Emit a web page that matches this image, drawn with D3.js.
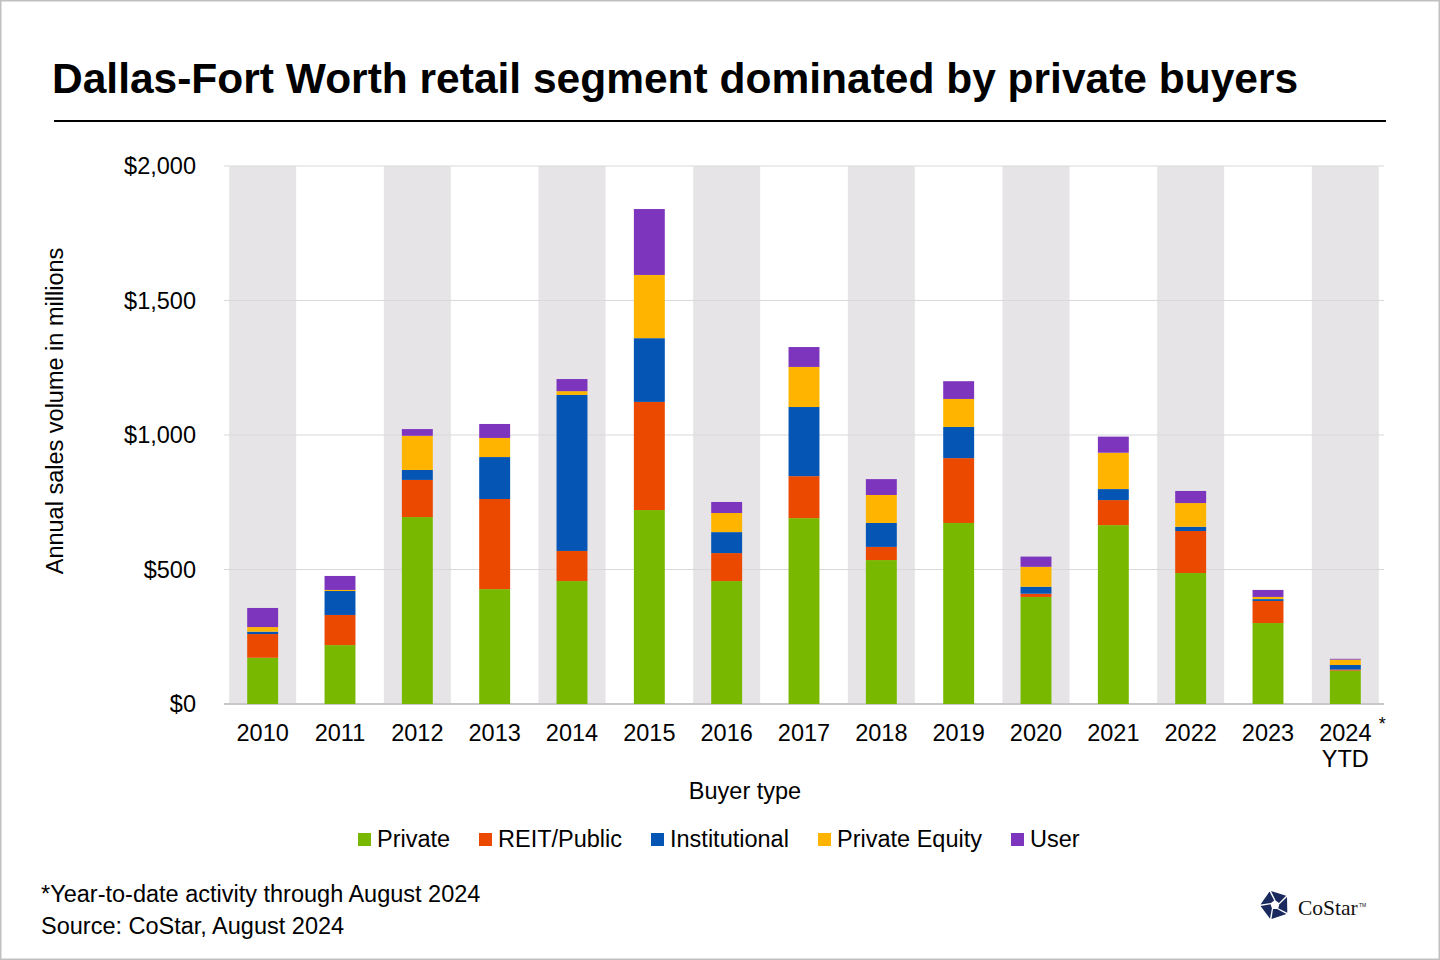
<!DOCTYPE html>
<html>
<head>
<meta charset="utf-8">
<script src="https://cdn.jsdelivr.net/npm/d3@7"></script>
<style>
  body { margin: 0; background: #fff; }
  svg { display: block; font-family: "Liberation Sans", Arial, sans-serif; }
</style>
</head>
<body>
<div id="chart"></div>
<script>
// Data (USD millions)
const years = ["2010","2011","2012","2013","2014","2015","2016","2017","2018","2019","2020","2021","2022","2023","2024"];
const privateVals = [172, 219, 695, 427, 457, 721, 457, 691, 535, 673, 398, 665, 487, 301, 124];
const reitVals    = [88, 112, 138, 335, 112, 402, 104, 156, 49, 241, 12, 93, 156, 82, 4];
const instVals    = [9, 89, 37, 156, 580, 237, 78, 257, 89, 116, 26, 41, 16, 7, 17];
const peVals      = [17, 4, 127, 71, 14, 235, 71, 149, 104, 104, 74, 135, 88, 8, 20];
const userVals    = [71, 52, 25, 52, 45, 245, 41, 74, 59, 66, 38, 60, 45, 26, 3];
const seriesNames = ["Private", "REIT/Public", "Institutional", "Private Equity", "User"];
const seriesColors = ["#78b800", "#eb4800", "#0455b4", "#ffb400", "#7e35bd"];
const yTicks = [0, 500, 1000, 1500, 2000];

const W = 1440, H = 960;
const fs = 23.5; // body text size
const svg = d3.select("#chart").append("svg").attr("width", W).attr("height", H);

// outer frame
svg.append("rect").attr("x", 0.5).attr("y", 0.5).attr("width", W - 1).attr("height", H - 1)
  .attr("fill", "#fff").attr("stroke", "#c0c0c0").attr("stroke-width", 2);

// title + rule
svg.append("text").attr("x", 52).attr("y", 93)
  .attr("font-size", 42.5).attr("font-weight", "bold").attr("fill", "#000")
  .text("Dallas-Fort Worth retail segment dominated by private buyers");
svg.append("line").attr("x1", 54).attr("x2", 1386).attr("y1", 121).attr("y2", 121)
  .attr("stroke", "#000").attr("stroke-width", 2);

const plot = { left: 224, right: 1384, top: 166, bottom: 704 };

const x = d3.scaleBand().domain(years).range([plot.left, plot.right]);
const y = d3.scaleLinear().domain([0, 2000]).range([plot.bottom, plot.top]);

// alternating shaded bands
const bandW = x.step() * 0.866;
svg.append("g").selectAll("rect")
  .data(years.filter((d, i) => i % 2 === 0))
  .join("rect")
  .attr("x", d => x(d) + (x.step() - bandW) / 2)
  .attr("y", y(2000))
  .attr("width", bandW)
  .attr("height", y(0) - y(2000))
  .attr("fill", "#e6e4e6");

// gridlines
svg.append("g").selectAll("line")
  .data(yTicks)
  .join("line")
  .attr("x1", plot.left).attr("x2", plot.right)
  .attr("y1", d => y(d)).attr("y2", d => y(d))
  .attr("stroke", d => d === 0 ? "#c8c8c8" : "#d9d9d9")
  .attr("stroke-width", d => d === 0 ? 2 : 1);

// y tick labels
svg.append("g").selectAll("text")
  .data(yTicks)
  .join("text")
  .attr("x", 196)
  .attr("y", d => y(d) + 8)
  .attr("text-anchor", "end")
  .attr("font-size", fs)
  .attr("fill", "#000")
  .text(d => "$" + d3.format(",")(d));

// y axis title
svg.append("text")
  .attr("transform", `translate(63,${(plot.top + plot.bottom) / 2 - 24}) rotate(-90)`)
  .attr("text-anchor", "middle")
  .attr("font-size", fs)
  .text("Annual sales volume in millions");

// stacked bars
const table = years.map((yr, i) => ({
  year: yr,
  "Private": privateVals[i],
  "REIT/Public": reitVals[i],
  "Institutional": instVals[i],
  "Private Equity": peVals[i],
  "User": userVals[i]
}));
const stacked = d3.stack().keys(seriesNames)(table);
const barW = x.step() * 0.4;

svg.append("g").selectAll("g")
  .data(stacked)
  .join("g")
  .attr("fill", (d, i) => seriesColors[i])
  .selectAll("rect")
  .data(d => d)
  .join("rect")
  .attr("x", d => x(d.data.year) + (x.step() - barW) / 2)
  .attr("y", d => y(d[1]))
  .attr("width", barW)
  .attr("height", d => y(d[0]) - y(d[1]));

// x tick labels
svg.append("g").selectAll("text")
  .data(years)
  .join("text")
  .attr("x", d => x(d) + x.step() / 2)
  .attr("y", 741)
  .attr("text-anchor", "middle")
  .attr("font-size", fs)
  .text(d => d);
const last = years[years.length - 1];
svg.append("text")
  .attr("x", x(last) + x.step() / 2).attr("y", 767)
  .attr("text-anchor", "middle").attr("font-size", fs).text("YTD");
svg.append("text")
  .attr("x", x(last) + x.step() / 2 + 37).attr("y", 730)
  .attr("text-anchor", "middle").attr("font-size", 18).text("*");

// x axis title
svg.append("text").attr("x", 745).attr("y", 799)
  .attr("text-anchor", "middle").attr("font-size", fs).text("Buyer type");

// legend
const legendX = [358, 479, 651, 818, 1011];
const legend = svg.append("g").selectAll("g")
  .data(seriesNames)
  .join("g")
  .attr("transform", (d, i) => `translate(${legendX[i]},839)`);
legend.append("rect").attr("x", 0).attr("y", -6).attr("width", 13).attr("height", 13)
  .attr("fill", (d, i) => seriesColors[i]);
legend.append("text").attr("x", 19).attr("y", 8).attr("font-size", fs).text(d => d);

// footnotes
svg.append("text").attr("x", 41).attr("y", 902).attr("font-size", fs)
  .text("*Year-to-date activity through August 2024");
svg.append("text").attr("x", 41).attr("y", 934).attr("font-size", fs)
  .text("Source: CoStar, August 2024");

// CoStar logo: pinwheel of five pieces
const logo = svg.append("g").attr("transform", "translate(1275,905)");
const polar = (r, a) => [r * Math.cos((a - 90) * Math.PI / 180), r * Math.sin((a - 90) * Math.PI / 180)];
const piece = [polar(14.5, -16), polar(14.5, 50), polar(4.5, 62), polar(4.5, 8)];
for (let k = 0; k < 5; k++) {
  logo.append("polygon")
    .attr("points", piece.map(p => p.join(",")).join(" "))
    .attr("transform", `rotate(${k * 72})`)
    .attr("fill", "#1b2a5e");
}
svg.append("text").attr("x", 1298).attr("y", 915)
  .attr("font-family", "'Liberation Serif', 'DejaVu Serif', serif")
  .attr("font-size", 21.5).attr("fill", "#111").text("CoStar");
svg.append("text").attr("x", 1359).attr("y", 907)
  .attr("font-size", 5).attr("fill", "#111").text("TM");
</script>
</body>
</html>
